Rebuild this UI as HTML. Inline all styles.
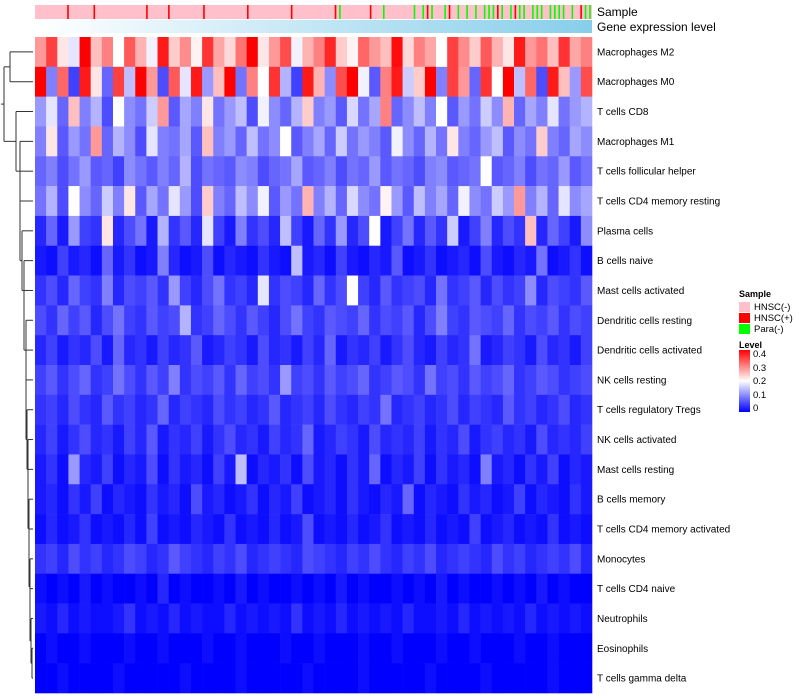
<!DOCTYPE html>
<html><head><meta charset="utf-8"><style>
body{margin:0;background:#fff;}
svg{display:block;font-family:"Liberation Sans",sans-serif;}
</style></head><body>
<svg id="chart" width="800" height="700">
<defs><linearGradient id="gexp" x1="0" x2="1" y1="0" y2="0"><stop offset="0" stop-color="#ffffff"/><stop offset="1" stop-color="#87CEEB"/></linearGradient>
<linearGradient id="lvl" x1="0" x2="0" y1="1" y2="0"><stop offset="0" stop-color="#0000ff"/><stop offset="0.5" stop-color="#ffffff"/><stop offset="1" stop-color="#ff0000"/></linearGradient></defs>
<g id="dendro"></g>
<g id="anno"></g>
<rect x="35" y="20" width="557" height="13" fill="url(#gexp)"/>
<text x="597" y="16" font-size="12">Sample</text>
<text x="597" y="31" font-size="12">Gene expression level</text>
<g id="cells"></g>
<g id="labels"></g>
<g>
<text x="739" y="297" font-size="9" font-weight="bold">Sample</text>
<rect x="739" y="302" width="11" height="10" fill="#ffc0cb"/>
<text x="754" y="310" font-size="9.5">HNSC(-)</text>
<rect x="739" y="313" width="11" height="10" fill="#ff0000"/>
<text x="754" y="321" font-size="9.5">HNSC(+)</text>
<rect x="739" y="324" width="11" height="10" fill="#00ff00"/>
<text x="754" y="332" font-size="9.5">Para(-)</text>
<text x="739" y="348" font-size="9" font-weight="bold">Level</text>
<rect x="739" y="350" width="11" height="62" fill="url(#lvl)"/>
<text x="753" y="357" font-size="9.5">0.4</text>
<text x="753" y="371" font-size="9.5">0.3</text>
<text x="753" y="384" font-size="9.5">0.2</text>
<text x="753" y="398" font-size="9.5">0.1</text>
<text x="753" y="411" font-size="9.5">0</text>
</g>
</svg>
<script>
const rowNames=["Macrophages M2","Macrophages M0","T cells CD8","Macrophages M1","T cells follicular helper","T cells CD4 memory resting","Plasma cells","B cells naive","Mast cells activated","Dendritic cells resting","Dendritic cells activated","NK cells resting","T cells regulatory  Tregs","NK cells activated","Mast cells resting","B cells memory","T cells CD4 memory activated","Monocytes","T cells CD4 naive","Neutrophils","Eosinophils","T cells gamma delta"];
// values in hundredths (level 0..0.4)
const rowM2=[28,35,22,18,40,25,30,20,33,26,19,38,24,29,21,36,27,23,31,40,22,28,34,19,26,30,37,24,21,32,28,25,39,23,30,27,20,35,29,24,33,26,22,38,28,31,25,36,27,30];
const rowM0=[40,10,32,5,38,22,8,35,15,40,28,6,33,18,38,12,25,40,9,30,20,36,14,5,38,26,11,34,40,19,7,30,38,16,24,40,10,35,28,8,36,20,40,15,32,6,38,25,12,34];
const rowCD8=[12,18,8,25,10,14,6,20,11,9,16,28,7,13,10,22,9,12,15,6,19,11,8,14,24,10,12,7,17,9,13,30,8,11,15,10,20,7,12,9,16,11,26,8,13,10,18,9,12,14];
const rowM1=[10,22,7,12,9,28,8,14,11,6,18,10,9,13,7,25,10,12,8,15,9,11,20,7,10,13,8,16,9,12,10,7,19,11,8,14,9,22,10,8,12,15,7,11,9,24,10,8,13,11];
const rowTfh=[8,10,6,9,12,7,8,5,11,9,7,10,8,14,6,9,8,7,11,10,6,8,9,13,7,8,10,6,9,8,12,7,9,8,6,10,11,7,8,9,20,7,8,10,6,9,8,12,7,9];
const rowCD4mr=[9,14,6,20,11,8,16,10,22,7,13,9,18,12,6,24,10,8,15,11,19,7,12,9,26,10,14,8,17,11,9,21,12,7,15,10,13,8,19,11,9,16,12,28,10,14,8,18,11,13];
const rowPlasma=[3,8,2,12,5,4,22,3,6,9,2,14,4,7,3,18,5,2,10,4,6,3,15,5,2,8,4,12,3,6,20,2,5,9,3,7,4,16,2,5,10,3,6,4,25,3,8,5,2,11];
const rowBn=[2,1,5,2,3,1,8,2,4,1,2,10,3,1,2,6,1,3,2,1,4,2,1,15,2,3,1,5,2,1,3,2,7,1,2,4,1,2,3,1,6,2,1,3,2,9,1,2,4,1];
const rowMastA=[4,6,3,8,5,4,10,3,6,5,7,4,12,5,3,6,9,4,5,3,18,4,6,5,3,8,4,6,20,5,3,7,4,5,6,3,9,4,5,7,3,6,4,5,11,3,6,5,4,7];
const rowDCr=[6,4,8,5,7,3,6,9,5,4,7,5,6,14,4,5,8,6,4,7,5,3,6,9,5,4,7,6,5,8,4,6,5,7,3,6,10,5,4,7,6,5,8,4,6,5,7,4,6,5];
const rowDCa=[3,5,2,4,3,6,2,8,3,4,2,5,3,4,7,2,3,5,4,2,6,3,4,2,5,3,8,2,4,3,5,2,4,6,3,2,5,3,4,9,2,3,5,4,2,6,3,4,2,5];
const rowNKr=[5,7,4,6,8,4,5,9,6,4,7,5,10,4,6,5,7,4,8,5,6,4,12,5,6,4,7,5,6,8,4,5,7,6,4,9,5,6,4,7,5,6,8,4,5,7,6,4,5,6];
const rowTreg=[4,5,3,6,4,3,7,4,5,3,4,8,3,5,4,3,6,4,5,3,4,7,3,4,5,3,6,4,3,5,4,9,3,4,5,3,4,6,3,5,4,3,7,4,5,3,4,6,3,4];
const rowNKa=[3,5,2,4,6,3,4,2,5,3,7,2,4,3,5,2,4,6,3,4,2,5,3,4,8,2,3,5,4,2,6,3,4,3,5,2,4,3,6,2,4,5,3,4,2,6,3,4,3,5];
const rowMastR=[2,4,1,12,3,2,5,1,3,2,6,1,4,2,3,1,5,2,15,1,3,2,4,1,6,2,3,1,4,2,8,1,3,2,5,1,4,2,3,1,10,2,3,1,4,2,5,1,3,2];
const rowBm=[2,3,1,4,2,5,1,3,2,1,4,2,3,1,6,2,3,1,2,4,1,3,2,5,1,2,3,1,4,2,1,3,2,8,1,3,2,1,4,2,3,1,2,5,1,3,2,1,4,2];
const rowCD4ma=[1,3,1,2,4,1,2,1,3,1,5,1,2,1,3,2,1,4,1,2,1,3,1,2,6,1,2,1,3,1,2,4,1,2,1,3,1,2,1,5,1,2,3,1,2,1,4,1,2,1];
const rowMono=[4,5,3,6,4,5,3,4,6,5,3,4,7,5,4,3,5,4,6,3,4,5,4,3,6,5,4,3,5,4,6,4,3,5,4,6,3,4,5,4,3,6,4,5,3,4,5,4,6,3];
const rowCD4n=[1,0,1,0,2,0,1,0,0,1,0,3,0,1,0,0,1,0,2,0,1,0,0,1,0,1,0,2,0,1,0,0,1,0,1,0,2,0,1,0,0,1,0,1,0,2,0,1,0,0];
const rowNeu=[2,1,3,1,2,1,1,2,4,1,2,1,3,1,2,1,1,3,1,2,1,2,1,4,1,2,1,3,1,2,1,2,1,3,1,1,2,1,3,1,2,1,2,1,3,1,2,1,2,1];
const rowEos=[0,1,0,0,1,0,0,0,1,0,0,1,0,0,0,1,0,0,1,0,0,0,1,0,0,1,0,0,0,1,0,0,1,0,0,0,1,0,0,1,0,0,0,1,0,0,1,0,0,0];
const rowGd=[0,0,1,0,0,0,0,1,0,0,0,0,0,1,0,0,0,0,1,0,0,0,0,0,1,0,0,0,0,1,0,0,0,0,0,1,0,0,0,0,1,0,0,0,0,0,1,0,0,0];
const sampleCodes="0000000100000100000000000100001000000010000000001000000000100000000012000000100200000020212002102020202221202122022202222020122".split("").map(Number);
const rows=[rowM2,rowM0,rowCD8,rowM1,rowTfh,rowCD4mr,rowPlasma,rowBn,rowMastA,rowDCr,rowDCa,rowNKr,rowTreg,rowNKa,rowMastR,rowBm,rowCD4ma,rowMono,rowCD4n,rowNeu,rowEos,rowGd];
const NS="http://www.w3.org/2000/svg";
const X0=35,X1=592,Y0=37,Y1=693;
const rowH=(Y1-Y0)/rows.length;
function yRow(i){return Y0+i*rowH;}
function color(v){v=Math.max(0,Math.min(0.4,v/100));
 if(v<=0.2){const t=v/0.2;const c=Math.round(255*t);return `rgb(${c},${c},255)`;}
 const t=(v-0.2)/0.2;const c=Math.round(255*(1-t));return `rgb(255,${c},${c})`;}
const cells=document.getElementById('cells');
rows.forEach((r,i)=>{const w=(X1-X0)/r.length;
 r.forEach((v,j)=>{const e=document.createElementNS(NS,'rect');
  e.setAttribute('x',(X0+j*w).toFixed(2));e.setAttribute('y',yRow(i).toFixed(2));
  e.setAttribute('width',(w+0.3).toFixed(2));e.setAttribute('height',(rowH+0.3).toFixed(2));
  e.setAttribute('fill',color(v));
  
  
  cells.appendChild(e);});
 const t=document.createElementNS(NS,'text');
 t.setAttribute('x',597);t.setAttribute('y',(yRow(i)+rowH/2+3.5).toFixed(1));
 t.setAttribute('font-size','10');t.textContent=rowNames[i];
 
 
 document.getElementById('labels').appendChild(t);});
const anno=document.getElementById('anno');
const sCol=["#ffc0cb","#ff0000","#00ff00"];
const bg=document.createElementNS(NS,'rect');
bg.setAttribute('x',X0);bg.setAttribute('y',5);bg.setAttribute('width',X1-X0);bg.setAttribute('height',14);bg.setAttribute('fill','#ffc0cb');


anno.appendChild(bg);
const sw=(X1-X0)/sampleCodes.length;
sampleCodes.forEach((c,j)=>{if(!c)return;const e=document.createElementNS(NS,'rect');
 e.setAttribute('x',(X0+j*sw+sw/2-0.7).toFixed(2));e.setAttribute('y',5);e.setAttribute('width',1.6);e.setAttribute('height',14);e.setAttribute('fill',sCol[c]);
 
 
 anno.appendChild(e);});
// dendrogram
const dg=document.getElementById('dendro');
function ln(x1,y1,x2,y2){const l=document.createElementNS(NS,'line');
 l.setAttribute('x1',x1);l.setAttribute('y1',y1);l.setAttribute('x2',x2);l.setAttribute('y2',y2);
 l.setAttribute('stroke','#333');l.setAttribute('stroke-width','1');
 
 
 dg.appendChild(l);}
function cy(i){return yRow(i)+rowH/2;}
// top pair
const ax=10;ln(ax,cy(0),X0-2,cy(0));ln(ax,cy(1),X0-2,cy(1));ln(ax,cy(0),ax,cy(1));
// ladder from bottom
const hs=[16,22,24,20,22,25,24,26,27,26,27,28,28,29,29,30,30,31,32,33];
let ny=cy(21),nx=X0-2;
for(let i=20;i>=2;i--){const h=hs[i-2]||30;const mx=Math.min(h,nx);
 ln(mx,cy(i),X0-2,cy(i));ln(mx,ny,nx,ny);ln(mx,cy(i),mx,ny);ny=(cy(i)+ny)/2;nx=mx;}
const rx=4;const ay=(cy(0)+cy(1))/2;
ln(rx,ay,ax,ay);ln(rx,ny,nx,ny);ln(rx,ay,rx,ny);ln(1,(ay+ny)/2,rx,(ay+ny)/2);
</script>
</body></html>
